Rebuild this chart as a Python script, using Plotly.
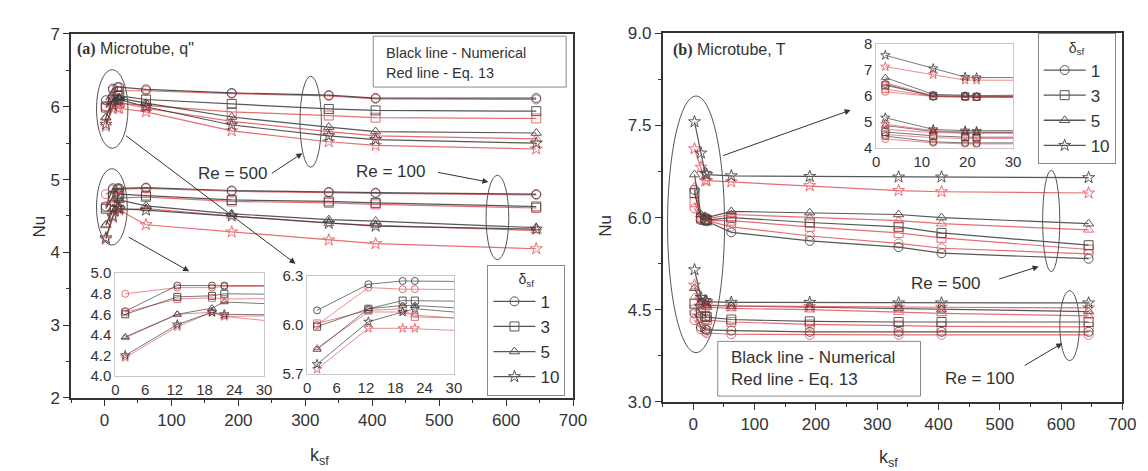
import plotly.graph_objects as go

W, H = 1148, 471

# ---------------- data ----------------
k_sf = [2, 12.5, 19.5, 22, 62, 190, 335, 405, 645]
delta_sf = ["1", "3", "5", "10"]

# (a) Microtube, q"  - Re = 500
a500_num_d1 = [6.09, 6.25, 6.27, 6.27, 6.24, 6.19, 6.16, 6.12, 6.12]
a500_eq_d1 = [6.00, 6.23, 6.22, 6.22, 6.22, 6.18, 6.15, 6.11, 6.10]
a500_num_d3 = [5.99, 6.10, 6.15, 6.15, 6.10, 6.04, 5.97, 5.95, 5.94]
a500_eq_d3 = [6.01, 6.09, 6.10, 6.05, 6.02, 5.93, 5.88, 5.85, 5.84]
a500_num_d5 = [5.85, 6.10, 6.12, 6.12, 6.05, 5.86, 5.72, 5.66, 5.64]
a500_eq_d5 = [5.86, 6.08, 6.08, 6.06, 5.98, 5.80, 5.66, 5.60, 5.56]
a500_num_d10 = [5.76, 6.02, 6.08, 6.10, 6.00, 5.75, 5.60, 5.55, 5.50]
a500_eq_d10 = [5.73, 5.98, 5.98, 5.98, 5.93, 5.67, 5.52, 5.47, 5.42]

# (a) Microtube, q"  - Re = 100
a100_num_d1 = [4.63, 4.88, 4.88, 4.88, 4.89, 4.85, 4.83, 4.82, 4.80]
a100_eq_d1 = [4.80, 4.86, 4.86, 4.87, 4.88, 4.84, 4.82, 4.81, 4.79]
a100_num_d3 = [4.60, 4.77, 4.78, 4.80, 4.78, 4.72, 4.70, 4.68, 4.63]
a100_eq_d3 = [4.62, 4.75, 4.76, 4.75, 4.76, 4.70, 4.68, 4.66, 4.61]
a100_num_d5 = [4.38, 4.60, 4.66, 4.72, 4.64, 4.53, 4.45, 4.43, 4.34]
a100_eq_d5 = [4.37, 4.60, 4.62, 4.58, 4.60, 4.50, 4.40, 4.37, 4.30]
a100_num_d10 = [4.20, 4.50, 4.62, 4.60, 4.58, 4.50, 4.40, 4.36, 4.32]
a100_eq_d10 = [4.18, 4.48, 4.62, 4.58, 4.38, 4.28, 4.17, 4.12, 4.05]

# (b) Microtube, T  - Re = 500
b500_num_d1 = [6.45, 5.96, 5.95, 5.94, 5.76, 5.62, 5.52, 5.42, 5.33]
b500_eq_d1 = [6.15, 5.97, 5.96, 5.95, 5.85, 5.70, 5.58, 5.50, 5.41]
b500_num_d3 = [6.40, 6.00, 5.98, 5.96, 6.00, 5.92, 5.85, 5.75, 5.55]
b500_eq_d3 = [6.25, 5.98, 5.96, 5.95, 5.95, 5.85, 5.75, 5.67, 5.48]
b500_num_d5 = [6.70, 6.05, 6.02, 6.00, 6.10, 6.08, 6.05, 6.00, 5.90]
b500_eq_d5 = [6.50, 6.00, 6.00, 5.98, 6.05, 6.00, 5.95, 5.90, 5.80]
b500_num_d10 = [7.56, 7.05, 6.72, 6.70, 6.68, 6.67, 6.66, 6.66, 6.65]
b500_eq_d10 = [7.12, 6.82, 6.60, 6.60, 6.58, 6.52, 6.44, 6.42, 6.40]

# (b) Microtube, T  - Re = 100
b100_num_d1 = [4.44, 4.22, 4.18, 4.17, 4.16, 4.14, 4.14, 4.14, 4.14]
b100_eq_d1 = [4.33, 4.18, 4.14, 4.12, 4.10, 4.09, 4.09, 4.09, 4.09]
b100_num_d3 = [4.60, 4.45, 4.40, 4.38, 4.34, 4.31, 4.30, 4.30, 4.30]
b100_eq_d3 = [4.50, 4.38, 4.35, 4.33, 4.30, 4.26, 4.24, 4.23, 4.22]
b100_num_d5 = [4.85, 4.62, 4.58, 4.57, 4.56, 4.54, 4.52, 4.50, 4.47]
b100_eq_d5 = [4.70, 4.58, 4.55, 4.54, 4.52, 4.50, 4.46, 4.44, 4.40]
b100_num_d10 = [5.15, 4.70, 4.65, 4.63, 4.62, 4.62, 4.61, 4.61, 4.61]
b100_eq_d10 = [4.90, 4.65, 4.60, 4.58, 4.56, 4.55, 4.54, 4.54, 4.53]

# ---------------- styling ----------------
BLACK = "#3a3a3a"
RED = "#e2555b"
AX = "#333333"
FONT = "Arial, Liberation Sans, sans-serif"
symbols = ["circle-open", "square-open", "triangle-up-open", "star-open"]

def px(x):
    return x / W

def py(y):
    return 1 - y / H

fig = go.Figure()

groups_a500 = [(a500_num_d1, a500_eq_d1), (a500_num_d3, a500_eq_d3),
               (a500_num_d5, a500_eq_d5), (a500_num_d10, a500_eq_d10)]
groups_a100 = [(a100_num_d1, a100_eq_d1), (a100_num_d3, a100_eq_d3),
               (a100_num_d5, a100_eq_d5), (a100_num_d10, a100_eq_d10)]
groups_b500 = [(b500_num_d1, b500_eq_d1), (b500_num_d3, b500_eq_d3),
               (b500_num_d5, b500_eq_d5), (b500_num_d10, b500_eq_d10)]
groups_b100 = [(b100_num_d1, b100_eq_d1), (b100_num_d3, b100_eq_d3),
               (b100_num_d5, b100_eq_d5), (b100_num_d10, b100_eq_d10)]


def add_groups(groups, xa, ya, msize, lw):
    for i, (num, eq) in enumerate(groups):
        for vals, col in ((eq, RED), (num, BLACK)):
            fig.add_trace(go.Scatter(
                x=k_sf, y=vals, xaxis=xa, yaxis=ya, mode="lines+markers",
                line=dict(color=col, width=lw),
                marker=dict(symbol=symbols[i], size=msize, color=col,
                            line=dict(color=col, width=1)),
                opacity=0.85, showlegend=False, hoverinfo="skip"))


# main panels
add_groups(groups_a500, "x", "y", 9, 1.2)
add_groups(groups_a100, "x", "y", 9, 1.2)
add_groups(groups_b500, "x4", "y4", 9, 1.2)
add_groups(groups_b100, "x4", "y4", 9, 1.2)
# insets
add_groups(groups_a100, "x2", "y2", 7, 0.8)
add_groups(groups_a500, "x3", "y3", 7, 0.8)
add_groups(groups_b500, "x5", "y5", 7, 0.8)
add_groups(groups_b100, "x5", "y5", 7, 0.8)

# legend entries
for leg, xa, ya in (("legend", "x", "y"), ("legend2", "x4", "y4")):
    for i, d in enumerate(delta_sf):
        fig.add_trace(go.Scatter(
            x=[None], y=[None], xaxis=xa, yaxis=ya, mode="lines+markers", name=d,
            line=dict(color="#555555", width=1.3),
            marker=dict(symbol=symbols[i], size=9, color="#555555"),
            legend=leg, showlegend=True))

main_axis = dict(showgrid=False, zeroline=False, showline=True, linecolor=AX,
                 linewidth=1.6, mirror=True, ticks="outside", ticklen=6,
                 tickwidth=1.4, tickcolor=AX,
                 tickfont=dict(size=17, color=AX, family=FONT))
inset_axis = dict(showgrid=False, zeroline=False, showline=True,
                  linecolor="#c8c8c8", linewidth=1, mirror=True, ticks="",
                  tickfont=dict(size=15, color=AX, family=FONT))

legend_common = dict(xanchor="left", yanchor="top",
                     bordercolor="#888888", borderwidth=1, bgcolor="white",
                     font=dict(size=17, color=AX),
                     title=dict(text="δ<sub>sf</sub>", side="top center",
                                font=dict(size=14, color=AX)),
                     itemwidth=42, tracegroupgap=0)

fig.update_layout(
    width=W, height=H, margin=dict(l=0, r=0, t=0, b=0),
    paper_bgcolor="white", plot_bgcolor="rgba(0,0,0,0)",
    font=dict(family=FONT, color=AX),
    xaxis=dict(main_axis, domain=[px(60), px(570)], range=[-50, 700],
               tickvals=[0, 100, 200, 300, 400, 500, 600, 700], anchor="y",
               minor=dict(ticks="outside", dtick=50, ticklen=3, tickcolor=AX)),
    yaxis=dict(main_axis, domain=[py(397), py(17.7)], range=[2, 7],
               tickvals=[2, 3, 4, 5, 6, 7], anchor="x",
               minor=dict(ticks="outside", dtick=0.5, ticklen=3, tickcolor=AX)),
    xaxis2=dict(inset_axis, domain=[px(105), px(256)], range=[0, 30],
                tickvals=[0, 6, 12, 18, 24, 30], anchor="y2"),
    yaxis2=dict(inset_axis, domain=[py(374), py(267)], range=[4.0, 5.0],
                tickvals=[4.0, 4.2, 4.4, 4.6, 4.8, 5.0], tickformat=".1f", anchor="x2"),
    xaxis3=dict(inset_axis, domain=[px(300), px(449)], range=[0, 30],
                tickvals=[0, 6, 12, 18, 24, 30], anchor="y3"),
    yaxis3=dict(inset_axis, domain=[py(372), py(270)], range=[5.7, 6.3],
                tickvals=[5.7, 6.0, 6.3], tickformat=".1f", anchor="x3"),
    xaxis4=dict(main_axis, domain=[px(661), px(1128)], range=[-50, 700],
                tickvals=[0, 100, 200, 300, 400, 500, 600, 700], anchor="y4",
                minor=dict(ticks="outside", dtick=50, ticklen=3, tickcolor=AX)),
    yaxis4=dict(main_axis, domain=[py(401), py(17)], range=[3, 9],
                tickvals=[3, 4.5, 6, 7.5, 9], tickformat=".1f", anchor="x4",
                minor=dict(ticks="outside", dtick=0.75, ticklen=3, tickcolor=AX)),
    xaxis5=dict(inset_axis, domain=[px(878), px(1017)], range=[0, 30],
                tickvals=[0, 10, 20, 30], anchor="y5"),
    yaxis5=dict(inset_axis, domain=[py(136), py(28)], range=[4, 8],
                tickvals=[4, 5, 6, 7, 8], anchor="x5"),
    legend=dict(legend_common, x=px(483), y=py(258)),
    legend2=dict(legend_common, x=px(1042), y=py(17)),
)

shapes = []
# ellipses (data coordinates)
ellipses = [
    ("x", "y", -12, 35, 5.43, 6.51),
    ("x", "y", -12, 34, 4.10, 5.15),
    ("x", "y", 292, 324, 5.17, 6.42),
    ("x", "y", 570, 604, 3.90, 5.06),
    ("x4", "y4", -42, 51, 3.80, 7.98),
    ("x4", "y4", 570, 598, 5.12, 6.77),
    ("x4", "y4", 598, 630, 3.67, 4.81),
]
for xr, yr, x0, x1, y0, y1 in ellipses:
    shapes.append(dict(type="circle", xref=xr, yref=yr, x0=x0, x1=x1, y0=y0, y1=y1,
                       line=dict(color="#555555", width=1)))
# text boxes
for x0, y0, x1, y1 in ((367, 20, 563, 73), (717, 338, 923, 395)):
    shapes.append(dict(type="rect", xref="paper", yref="paper",
                       x0=px(x0), x1=px(x1), y0=py(y1), y1=py(y0),
                       line=dict(color="#888888", width=1), fillcolor="white",
                       layer="above"))
fig.update_layout(shapes=shapes)

ann = []
def text(x, y, t, size, anchor="left"):
    ann.append(dict(x=px(x), y=py(y), xref="paper", yref="paper", text=t,
                    showarrow=False, xanchor=anchor, yanchor="middle",
                    font=dict(size=size, color=AX, family=FONT)))

def arrow(x0, y0, x1, y1):
    ann.append(dict(x=px(x1), y=py(y1), xref="paper", yref="paper", text="",
                    showarrow=True, ax=x0 - x1, ay=y0 - y1, arrowhead=2,
                    arrowsize=1.2, arrowwidth=1, arrowcolor="#333333"))

text(64, 33, "<span style='font-family:Liberation Serif'><b>(a)</b></span> Microtube, q\"", 16)
text(670, 34, "<span style='font-family:Liberation Serif'><b>(b)</b></span> Microtube, T", 16)
text(378, 37, "Black line - Numerical", 14.5)
text(378, 58, "Red line - Eq. 13", 14.5)
text(728, 355, "Black line - Numerical", 17)
text(728, 378, "Red line - Eq. 13", 17)
text(224, 163, "Re = 500", 17, "center")
text(385, 161, "Re = 100", 17, "center")
text(948, 278, "Re = 500", 17, "center")
text(983, 377, "Re = 100", 17, "center")
# axis titles
ann.append(dict(x=px(16), y=py(218), xref="paper", yref="paper", text="Nu",
                textangle=-90, showarrow=False, font=dict(size=17, color=AX)))
ann.append(dict(x=px(603), y=py(218), xref="paper", yref="paper", text="Nu",
                textangle=-90, showarrow=False, font=dict(size=17, color=AX)))
text(312, 458, "k<sub>sf</sub>", 18, "center")
text(890, 460, "k<sub>sf</sub>", 18, "center")

arrow(117, 128, 288, 257)
arrow(118, 230, 180, 265)
arrow(263, 163, 295, 142)
arrow(432, 162, 484, 172)
arrow(723, 143, 852, 97)
arrow(1002, 273, 1043, 260)
arrow(1028, 363, 1067, 340)

fig.update_layout(annotations=ann)

fig.write_html("out.html")
